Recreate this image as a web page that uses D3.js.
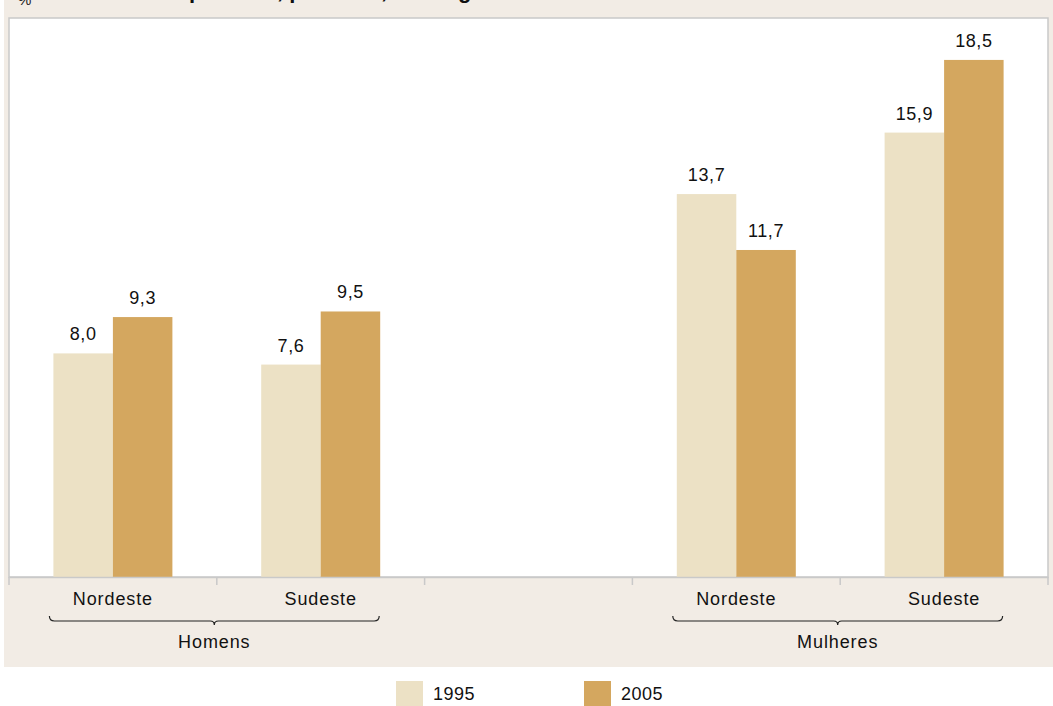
<!DOCTYPE html>
<html><head><meta charset="utf-8">
<script src="https://cdn.jsdelivr.net/npm/d3@7"></script>
<style>body{margin:0;background:#fff;font-family:"Liberation Sans",Arial,sans-serif}</style>
</head><body>
<svg id="c" width="1053" height="706"></svg>
<script>
const titleText = "Idosos entre pessoas, por sexo, nas regiões";
const unitLabel = "%";
const bands = ["H-Nordeste","H-Sudeste","gap","M-Nordeste","M-Sudeste"];
const bandLabels = ["Nordeste","Sudeste","","Nordeste","Sudeste"];
const groups = [{name:"Homens", from:"H-Nordeste", to:"H-Sudeste"},{name:"Mulheres", from:"M-Nordeste", to:"M-Sudeste"}];
const seriesNames = ["1995","2005"];
const values1995 = [8.0, 7.6, null, 13.7, 15.9];
const values2005 = [9.3, 9.5, null, 11.7, 18.5];
const colors = ["#ece1c5","#d4a75f"];

const svg = d3.select("#c");
const fmt = v => d3.format(".1f")(v).replace(".", ",");

const L=9, R=1048, T=18, B=577;
svg.append("rect").attr("x",4).attr("y",0).attr("width",1049).attr("height",667).attr("fill","#f2ece5");
svg.append("rect").attr("x",L).attr("y",T).attr("width",R-L).attr("height",B-T).attr("fill","#fff").attr("stroke","#c9c9c9").attr("stroke-width",1.5);

// title (clipped at top, as in the reference)
const title = svg.append("text").attr("y",-2).attr("font-weight","bold").attr("font-size",22).attr("fill","#111").text(titleText);
try{
  const idx = titleText.indexOf("pessoas");
  const off = title.node().getSubStringLength(0, idx);
  title.attr("x", Math.max(40, 189 - off));
}catch(e){ title.attr("x",50); }
svg.append("text").attr("x",18).attr("y",5).attr("font-size",15).attr("fill","#222").text(unitLabel);

const x = d3.scaleBand().domain(bands).range([L,R]).paddingInner(0).paddingOuter(0);
const y = d3.scaleLinear().domain([0,20]).range([B,T]);
const barW = 59.5;
const xs = d3.scaleBand().domain(seriesNames).range([0,barW*2]);

const data = [];
bands.forEach((b,i)=>{
  [values1995, values2005].forEach((arr,j)=>{
    if(arr[i]!=null) data.push({band:b, s:seriesNames[j], v:arr[i], c:colors[j]});
  });
});

const bx = d => x(d.band) + x.bandwidth()/2 - barW + xs(d.s);
svg.append("g").selectAll("rect").data(data).join("rect")
  .attr("x",bx).attr("y",d=>y(d.v)).attr("width",xs.bandwidth()).attr("height",d=>B-y(d.v)).attr("fill",d=>d.c);
svg.append("g").selectAll("text").data(data).join("text")
  .attr("x",d=>bx(d)+xs.bandwidth()/2).attr("y",d=>y(d.v)-13)
  .attr("text-anchor","middle").attr("font-size",18).attr("letter-spacing",0.6).attr("fill","#111").text(d=>fmt(d.v));

// axis
const ax = svg.append("g").attr("transform",`translate(0,${B})`)
  .call(d3.axisBottom(x).tickValues([]).tickSizeOuter(0));
ax.select(".domain").attr("stroke","#c9c9c9").attr("stroke-width",1.5);
const tickPos = bands.map(b=>x(b)).concat([R]);
svg.append("g").selectAll("line").data(tickPos).join("line")
  .attr("x1",d=>d).attr("x2",d=>d).attr("y1",B).attr("y2",B+8).attr("stroke","#c9c9c9").attr("stroke-width",1.5);

svg.append("g").selectAll("text").data(bands).join("text")
  .attr("x",d=>x(d)+x.bandwidth()/2).attr("y",605).attr("text-anchor","middle")
  .attr("font-size",18).attr("letter-spacing",0.9).attr("fill","#111").text((d,i)=>bandLabels[i]);

// braces
groups.forEach(g=>{
  const x0 = x(g.from)+x.bandwidth()/2 - barW - 4;
  const x1 = x(g.to)+x.bandwidth()/2 + barW - 1;
  const m = (x0+x1)/2, yl = 621;
  const p = `M${x0},${yl-5} Q${x0},${yl} ${x0+5},${yl} L${m-4},${yl} Q${m},${yl} ${m},${yl+4} Q${m},${yl} ${m+4},${yl} L${x1-5},${yl} Q${x1},${yl} ${x1},${yl-5}`;
  svg.append("path").attr("d",p).attr("fill","none").attr("stroke","#222").attr("stroke-width",1.2);
  svg.append("text").attr("x",m).attr("y",648).attr("text-anchor","middle").attr("font-size",18).attr("letter-spacing",0.9).attr("fill","#111").text(g.name);
});

// legend
const lg = svg.append("g");
const lx = [396, 584];
seriesNames.forEach((s,i)=>{
  lg.append("rect").attr("x",lx[i]).attr("y",681).attr("width",27).attr("height",26).attr("fill",colors[i]);
  lg.append("text").attr("x",lx[i]+37).attr("y",700).attr("font-size",18).attr("letter-spacing",0.5).attr("fill","#111").text(s);
});
</script>
</body></html>
